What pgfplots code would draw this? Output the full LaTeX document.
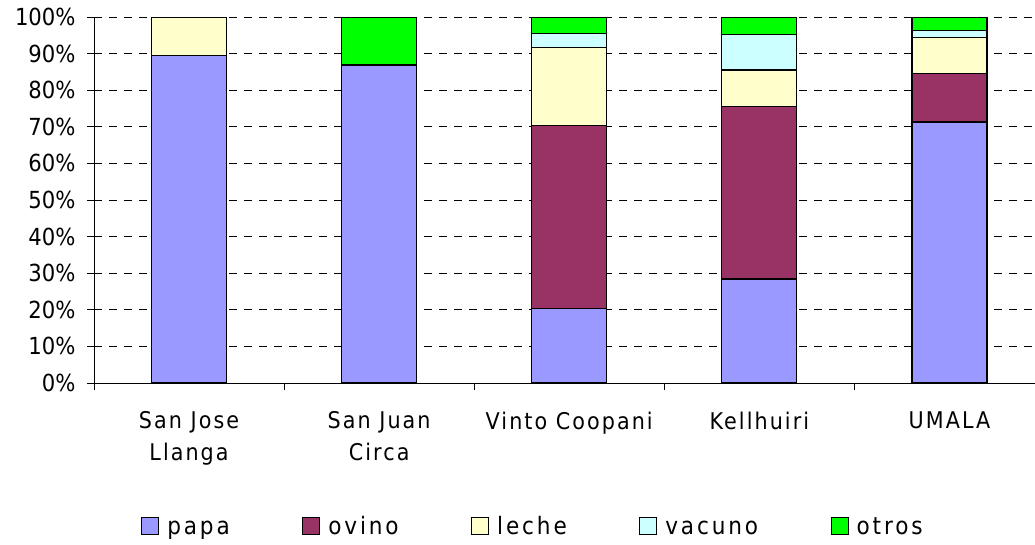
\documentclass[border=0pt]{standalone}
\usepackage{fontspec}
\setmainfont{DejaVu Sans Condensed}
\newfontfamily\catfam[LetterSpace=9]{DejaVu Sans Condensed}
\newfontfamily\legfam[LetterSpace=12]{DejaVu Sans Condensed}
\usepackage{pgfplots}
\pgfplotsset{compat=1.18}
\definecolor{cpapa}{HTML}{9999FF}
\definecolor{covino}{HTML}{993366}
\definecolor{cleche}{HTML}{FFFFCC}
\definecolor{cvacuno}{HTML}{CCFFFF}
\definecolor{cotros}{HTML}{00FF00}
\begin{document}
\begin{tikzpicture}
\useasboundingbox (-94pt,-161pt) rectangle (941pt,383pt);
\begin{axis}[
  at={(0pt,0pt)}, anchor=south west,
  scale only axis, width=941pt, height=366pt,
  ybar stacked, bar width=75pt,
  xmin=-0.5, xmax=4.45, ymin=0, ymax=100,
  axis lines=left, axis line style={-, black, line width=0.8pt},
  tick align=outside, major tick length=7pt, minor tick length=7pt,
  tick style={black, line width=0.8pt},
  xtick={0,1,2,3,4},
  xticklabels={{San Jose\\Llanga},{San Juan\\Circa},{Vinto Coopani},{Kellhuiri},{UMALA}},
  minor xtick={-0.5,0.5,1.5,2.5,3.5},
  major x tick style={draw=none},
  ytick={0,10,20,30,40,50,60,70,80,90,100},
  yticklabels={0\%,10\%,20\%,30\%,40\%,50\%,60\%,70\%,80\%,90\%,100\%},
  yticklabel style={font=\fontsize{23.5}{26}\selectfont, xshift=-8pt},
  xticklabel style={font=\catfam\fontsize{23}{32}\selectfont, align=center, yshift=-18pt},
  ymajorgrids,
  major grid style={black, line width=0.8pt, dash pattern=on 8pt off 7pt},
  every axis plot/.append style={draw=black, line width=1.2pt,
    legend image code/.code={\draw[##1, line width=1pt] (0pt,0pt) rectangle (17pt,17pt);}},
  legend columns=-1,
  legend style={draw=none, fill=none, at={(0.05,-0.392)}, anchor=west, inner sep=0pt,
    font=\legfam\fontsize{24}{28}\selectfont,
    nodes={inner xsep=8pt, inner ysep=1pt, anchor=base},
    /tikz/every even column/.append style={column sep=64.5pt}},
]
\addplot[fill=cpapa] coordinates {(0,89.4) (1,86.9) (2,20.4) (3,28.4) (4,71.3)};
\addplot[fill=covino] coordinates {(0,0) (1,0) (2,50.0) (3,47.1) (4,13.2)};
\addplot[fill=cleche] coordinates {(0,10.6) (1,0) (2,21.2) (3,10.0) (4,10.0)};
\addplot[fill=cvacuno] coordinates {(0,0) (1,0) (2,4.0) (3,9.7) (4,1.9)};
\addplot[fill=cotros] coordinates {(0,0) (1,13.1) (2,4.4) (3,4.8) (4,3.6)};
\legend{papa,ovino,leche,vacuno,otros}
\end{axis}
\end{tikzpicture}
\end{document}
